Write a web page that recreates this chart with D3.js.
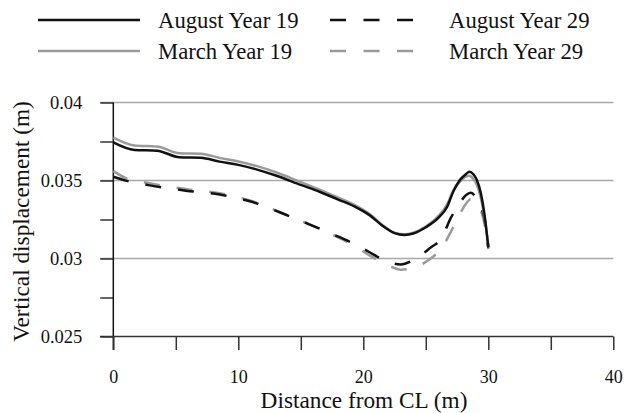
<!DOCTYPE html>
<html>
<head>
<meta charset="utf-8">
<script src="https://cdnjs.cloudflare.com/ajax/libs/d3/7.8.5/d3.min.js"></script>
<style>
  body { margin: 0; background: #fff; }
  svg text { font-family: "Liberation Serif", "Times New Roman", serif; }
</style>
</head>
<body>
<div id="chartContainer"></div>
<script>
// distances from centre line (m)
var distY19 = [0, 1.7, 3.5, 5.3, 7, 8.5, 10, 11.5, 13, 15, 16.5, 18, 19.5, 20.5, 21.5, 22.5, 23.3, 24, 25, 26, 26.7, 27.2, 27.7, 28.2, 28.5, 28.8, 29.1, 29.4, 29.7, 30];
var augustY19 = [0.03745, 0.03696, 0.03691, 0.03649, 0.03646, 0.03621, 0.03600, 0.03570, 0.03532, 0.03472, 0.03428, 0.03378, 0.03325, 0.03278, 0.03212, 0.03163, 0.03151, 0.03160, 0.03200, 0.03260, 0.03330, 0.03430, 0.03500, 0.03540, 0.03556, 0.03540, 0.03500, 0.03420, 0.03280, 0.03070];
var marchY19 = [0.03775, 0.03725, 0.03718, 0.03675, 0.03672, 0.03645, 0.03622, 0.03592, 0.03553, 0.03490, 0.03442, 0.03390, 0.03335, 0.03286, 0.03217, 0.03165, 0.03155, 0.03165, 0.03205, 0.03272, 0.03345, 0.03435, 0.03490, 0.03525, 0.03530, 0.03510, 0.03470, 0.03390, 0.03260, 0.03090];

var distY29 = [0, 1, 2.7, 5.8, 8.5, 11, 13.5, 15.5, 18, 19.5, 20.5, 21.5, 22.3, 23, 24, 25.3, 26.3, 27, 27.6, 28.2, 28.6, 29.2, 29.7, 30];
var augustY29 = [0.03524, 0.03499, 0.03472, 0.03435, 0.03410, 0.03365, 0.03290, 0.03225, 0.03140, 0.03085, 0.03040, 0.02995, 0.02970, 0.02962, 0.02990, 0.03065, 0.03136, 0.03260, 0.03340, 0.03405, 0.03422, 0.03360, 0.03250, 0.03075];
var marchY29 = [0.03560, 0.03515, 0.03485, 0.03445, 0.03418, 0.03370, 0.03292, 0.03225, 0.03135, 0.03070, 0.03020, 0.02975, 0.02945, 0.02928, 0.02940, 0.02995, 0.03070, 0.03170, 0.03265, 0.03350, 0.03380, 0.03340, 0.03220, 0.03060];

var xTicks = [0, 10, 20, 30, 40];
var yTicks = [0.025, 0.03, 0.035, 0.04];

var width = 624, height = 413;
var svg = d3.select("#chartContainer").append("svg")
  .attr("width", width).attr("height", height);

var x = d3.scaleLinear().domain([0, 40]).range([113.3, 613.3]);
var y = d3.scaleLinear().domain([0.025, 0.04]).range([336.5, 102.5]);

// grid lines at the major y ticks
svg.selectAll("line.grid")
  .data(yTicks.slice(1))
  .enter().append("line")
    .attr("class", "grid")
    .attr("x1", 100).attr("x2", x(40))
    .attr("y1", function (d) { return y(d); })
    .attr("y2", function (d) { return y(d); })
    .attr("stroke", "#a8a8a8").attr("stroke-width", 1.5);

// y axis, minor ticks every 0.0025
var yAxis = d3.axisLeft(y)
  .tickValues(d3.range(0.025, 0.04001, 0.0025))
  .tickSize(13)
  .tickFormat(function (d) {
    return yTicks.some(function (t) { return Math.abs(t - d) < 1e-9; }) ? d3.format("")(+d.toFixed(4)) : "";
  });
var gy = svg.append("g").attr("transform", "translate(" + x(0) + ",0)").call(yAxis);
gy.select(".domain").remove();
gy.selectAll(".tick line").attr("stroke", "#333").attr("stroke-width", 1.5);
gy.selectAll(".tick text").attr("x", -31).attr("font-size", "18.5px").attr("fill", "#111");
svg.append("line")
  .attr("x1", x(0)).attr("x2", x(0))
  .attr("y1", y(0.04)).attr("y2", y(0.025) + 13.5)
  .attr("stroke", "#111").attr("stroke-width", 1.5);

// x axis, minor ticks every 5
var xAxis = d3.axisBottom(x)
  .tickValues(d3.range(0, 41, 5))
  .tickSize(13.5)
  .tickFormat(function (d) { return xTicks.indexOf(d) >= 0 ? d : ""; });
var gx = svg.append("g").attr("transform", "translate(0," + y(0.025) + ")").call(xAxis);
gx.select(".domain").remove();
gx.selectAll(".tick line").attr("stroke", "#333").attr("stroke-width", 1.5);
gx.selectAll(".tick text").attr("y", 33.5).attr("font-size", "18px").attr("fill", "#111");
svg.append("line")
  .attr("x1", 100).attr("x2", x(40))
  .attr("y1", y(0.025)).attr("y2", y(0.025))
  .attr("stroke", "#333").attr("stroke-width", 1.5);

// axis titles
svg.append("text")
  .attr("x", 364).attr("y", 408)
  .attr("text-anchor", "middle").attr("font-size", "23.3px").attr("fill", "#111")
  .text("Distance from CL (m)");
svg.append("text")
  .attr("transform", "translate(29,221.5) rotate(-90)")
  .attr("text-anchor", "middle").attr("font-size", "23.3px").attr("fill", "#111")
  .text("Vertical displacement (m)");

// series
var series = [
  { name: "March Year 29", dist: distY29, vals: marchY29, color: "#9a9a9a", dash: "16,17" },
  { name: "August Year 29", dist: distY29, vals: augustY29, color: "#111", dash: "16,17" },
  { name: "March Year 19", dist: distY19, vals: marchY19, color: "#9a9a9a", dash: null },
  { name: "August Year 19", dist: distY19, vals: augustY19, color: "#111", dash: null }
];

var line = d3.line()
  .x(function (d) { return x(d[0]); })
  .y(function (d) { return y(d[1]); })
  .curve(d3.curveMonotoneX);

series.forEach(function (s) {
  svg.append("path")
    .datum(d3.zip(s.dist, s.vals))
    .attr("d", line)
    .attr("fill", "none")
    .attr("stroke", s.color)
    .attr("stroke-width", 2.5)
    .attr("stroke-dasharray", s.dash);
});

// legend
var legend = [
  { name: "August Year 19", color: "#111", dash: null, lx: 38, len: 102, tx: 158, ly: 20 },
  { name: "March Year 19", color: "#9a9a9a", dash: null, lx: 38, len: 102, tx: 158, ly: 51 },
  { name: "August Year 29", color: "#111", dash: "16,17.5", lx: 330, len: 84, tx: 449, ly: 20 },
  { name: "March Year 29", color: "#9a9a9a", dash: "16,17.5", lx: 330, len: 84, tx: 449, ly: 51 }
];
legend.forEach(function (l) {
  svg.append("line")
    .attr("x1", l.lx).attr("x2", l.lx + l.len)
    .attr("y1", l.ly).attr("y2", l.ly)
    .attr("stroke", l.color).attr("stroke-width", 2.5)
    .attr("stroke-dasharray", l.dash);
  svg.append("text")
    .attr("x", l.tx).attr("y", l.ly + 8)
    .attr("font-size", "22.7px").attr("fill", "#111")
    .text(l.name);
});
</script>
</body>
</html>
